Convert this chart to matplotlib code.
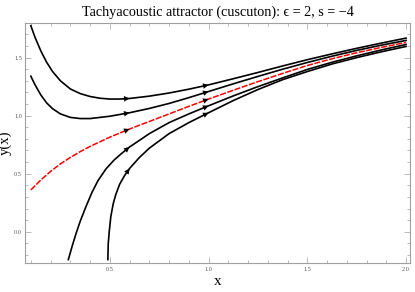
import matplotlib
matplotlib.use('Agg')
import numpy as np
import matplotlib.pyplot as plt
from matplotlib.ticker import MultipleLocator, FormatStrFormatter

# ---- data (x, y(x)) ----
x1 = [0.10, 0.12, 0.15, 0.18, 0.21, 0.25, 0.30, 0.35, 0.40, 0.45, 0.50, 0.55, 0.60,
      0.70, 0.80, 0.90, 1.00, 1.125, 1.25, 1.375, 1.50, 1.625, 1.75, 1.875, 2.00]
y1 = [1.775, 1.68, 1.56, 1.46, 1.38, 1.30, 1.23, 1.19, 1.165, 1.15, 1.143, 1.143, 1.148,
      1.168, 1.195, 1.228, 1.265, 1.318, 1.372, 1.428, 1.482, 1.532, 1.58, 1.625, 1.668]

x2 = [0.10, 0.12, 0.15, 0.18, 0.21, 0.25, 0.30, 0.35, 0.40, 0.45, 0.50, 0.55, 0.60,
      0.70, 0.80, 0.90, 1.00, 1.125, 1.25, 1.375, 1.50, 1.625, 1.75, 1.875, 2.00]
y2 = [1.34, 1.27, 1.18, 1.11, 1.06, 1.015, 0.985, 0.975, 0.975, 0.985, 0.995, 1.01, 1.025,
      1.062, 1.105, 1.155, 1.208, 1.274, 1.338, 1.40, 1.458, 1.512, 1.562, 1.607, 1.648]

# red dashed attractor
xr = [0.10, 0.15, 0.20, 0.25, 0.30, 0.35, 0.40, 0.50, 0.60, 0.70, 0.80, 0.90,
      1.00, 1.125, 1.25, 1.375, 1.50, 1.625, 1.75, 1.875, 2.00]
yr = [0.36, 0.445, 0.52, 0.585, 0.64, 0.69, 0.735, 0.815, 0.885, 0.95, 1.015, 1.08,
      1.143, 1.219, 1.293, 1.364, 1.432, 1.49, 1.542, 1.588, 1.63]

x3 = [0.29, 0.31, 0.33, 0.35, 0.38, 0.41, 0.44, 0.48, 0.52, 0.56, 0.60, 0.70,
      0.80, 0.90, 1.00, 1.125, 1.25, 1.375, 1.50, 1.625, 1.75, 1.875, 2.00]
y3 = [-0.24, -0.12, -0.01, 0.09, 0.22, 0.34, 0.44, 0.54, 0.615, 0.675, 0.73, 0.845,
      0.94, 1.015, 1.085, 1.17, 1.25, 1.325, 1.398, 1.46, 1.515, 1.566, 1.613]

x4 = [0.490, 0.492, 0.497, 0.505, 0.517, 0.53, 0.55, 0.575, 0.60, 0.65, 0.70, 0.80,
      0.90, 1.00, 1.125, 1.25, 1.375, 1.50, 1.625, 1.75, 1.875, 2.00]
y4 = [-0.24, -0.10, 0.00, 0.13, 0.24, 0.32, 0.41, 0.485, 0.545, 0.64, 0.72, 0.845,
      0.94, 1.025, 1.13, 1.225, 1.31, 1.38, 1.445, 1.50, 1.55, 1.596]

arrow_x = [0.6, 1.0]

fig = plt.figure(figsize=(4.15, 2.92), dpi=100)
ax = fig.add_axes([0.060, 0.099, 0.928, 0.823])

def add_arrows(xs, ys, color):
    for xa in arrow_x:
        ya = np.interp(xa, xs, ys)
        xb = xa - 0.01
        yb = np.interp(xb, xs, ys)
        ax.annotate("", xy=(xa, ya), xytext=(xb, yb),
                    arrowprops=dict(arrowstyle='-|>', color=color, lw=0,
                                    mutation_scale=10, shrinkA=0, shrinkB=0))

for xs, ys in [(x1, y1), (x2, y2), (x3, y3), (x4, y4)]:
    ax.plot(xs, ys, color='black', lw=1.2)
    add_arrows(xs, ys, 'black')

ax.plot(xr, yr, color='red', lw=1.1, linestyle=(0, (4, 1)))
add_arrows(xr, yr, 'black')

ax.set_xlim(0.07, 2.02)
ax.set_ylim(-0.27, 1.80)

ax.xaxis.set_major_locator(MultipleLocator(0.5))
ax.xaxis.set_minor_locator(MultipleLocator(0.1))
ax.yaxis.set_major_locator(MultipleLocator(0.5))
ax.yaxis.set_minor_locator(MultipleLocator(0.1))
ax.xaxis.set_major_formatter(FormatStrFormatter('%.1f'))
ax.yaxis.set_major_formatter(FormatStrFormatter('%.1f'))

frame = '#a0a0a0'
for s in ax.spines.values():
    s.set_color(frame)
    s.set_linewidth(0.8)
ax.tick_params(which='both', direction='in', top=True, right=True, color=frame,
               labelsize=4.5, labelcolor='#555555', width=0.5)
ax.tick_params(which='major', length=4, pad=3)
ax.tick_params(axis='y', which='major', pad=2)
ax.tick_params(which='minor', length=2)
for lab in ax.get_xticklabels() + ax.get_yticklabels():
    lab.set_family('Liberation Serif')

ax.set_title('Tachyacoustic attractor (cuscuton): ϵ = 2, s = −4',
             family='Liberation Serif', fontsize=10.2, pad=5)
ax.set_xlabel('x', family='Liberation Serif', fontsize=11, labelpad=2)
ax.set_ylabel('y(x)', family='Liberation Serif', fontsize=10.5)
ax.yaxis.set_label_coords(-0.033, 0.5)

fig.savefig('out.png', dpi=100)
